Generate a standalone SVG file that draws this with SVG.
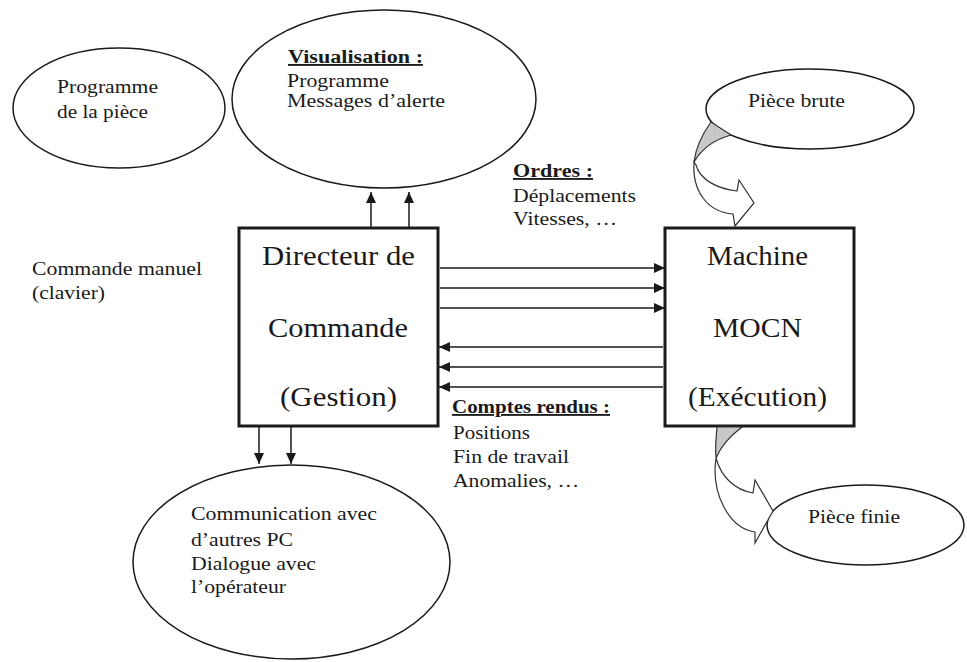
<svg xmlns="http://www.w3.org/2000/svg" width="967" height="662" viewBox="0 0 967 662">
<style>
text{font-family:"Liberation Serif","Times New Roman",serif;fill:#1a1a1a;}
.s{font-size:18.5px;}
.b{font-size:27.5px;}
.h{font-weight:bold;text-decoration:underline;}
.ell{fill:none;stroke:#1a1a1a;stroke-width:1.5;}
.box{fill:#fff;stroke:#1a1a1a;stroke-width:3;}
.ln{stroke:#1a1a1a;stroke-width:1.5;fill:none;}
.band{fill:#fff;stroke:#333;stroke-width:1.2;}
.shade{fill:#c8c8c8;stroke:#333;stroke-width:1.2;}
</style>
<defs>
<marker id="ah" markerUnits="userSpaceOnUse" markerWidth="12" markerHeight="10" refX="11" refY="5" orient="auto">
<path d="M0,0 L11,5 L0,10 Z" fill="#1a1a1a"/>
</marker>
</defs>
<rect width="967" height="662" fill="#fff"/>

<g id="prog-piece">
<ellipse class="ell" cx="119" cy="108" rx="106" ry="60"/>
<text class="s" x="57" y="93" textLength="101" lengthAdjust="spacingAndGlyphs">Programme</text>
<text class="s" x="57" y="118" textLength="91" lengthAdjust="spacingAndGlyphs">de la pièce</text>
</g>

<g id="visualisation">
<ellipse class="ell" cx="384" cy="99" rx="152" ry="89"/>
<text class="s h" x="288" y="63" textLength="135" lengthAdjust="spacingAndGlyphs">Visualisation :</text>
<text class="s" x="287" y="87" textLength="102" lengthAdjust="spacingAndGlyphs">Programme</text>
<text class="s" x="287" y="107" textLength="158" lengthAdjust="spacingAndGlyphs">Messages d’alerte</text>
</g>

<g id="piece-brute">
<ellipse class="ell" cx="810" cy="109" rx="104" ry="40"/>
<text class="s" x="748" y="107" textLength="97" lengthAdjust="spacingAndGlyphs">Pièce brute</text>
</g>

<g id="ordres">
<text class="s h" x="513" y="177" textLength="80" lengthAdjust="spacingAndGlyphs">Ordres :</text>
<text class="s" x="513" y="202" textLength="123" lengthAdjust="spacingAndGlyphs">Déplacements</text>
<text class="s" x="513" y="225" textLength="104" lengthAdjust="spacingAndGlyphs">Vitesses, …</text>
</g>

<g id="commande-manuel">
<text class="s" x="32" y="275" textLength="170" lengthAdjust="spacingAndGlyphs">Commande manuel</text>
<text class="s" x="32" y="299" textLength="73" lengthAdjust="spacingAndGlyphs">(clavier)</text>
</g>

<g id="directeur">
<rect class="box" x="239" y="228" width="199" height="198"/>
<text class="b" x="262" y="265" textLength="153" lengthAdjust="spacingAndGlyphs">Directeur de</text>
<text class="b" x="268" y="337" textLength="140" lengthAdjust="spacingAndGlyphs">Commande</text>
<text class="b" x="280" y="406" textLength="117" lengthAdjust="spacingAndGlyphs">(Gestion)</text>
</g>

<g id="machine">
<rect class="box" x="665" y="228" width="189" height="198"/>
<text class="b" x="707" y="265" textLength="101" lengthAdjust="spacingAndGlyphs">Machine</text>
<text class="b" x="713" y="337" textLength="89" lengthAdjust="spacingAndGlyphs">MOCN</text>
<text class="b" x="688" y="406" textLength="139" lengthAdjust="spacingAndGlyphs">(Exécution)</text>
</g>

<g id="comptes-rendus">
<text class="s h" x="452" y="413" textLength="158" lengthAdjust="spacingAndGlyphs">Comptes rendus :</text>
<text class="s" x="453" y="439" textLength="77" lengthAdjust="spacingAndGlyphs">Positions</text>
<text class="s" x="453" y="463" textLength="116" lengthAdjust="spacingAndGlyphs">Fin de travail</text>
<text class="s" x="453" y="487" textLength="126" lengthAdjust="spacingAndGlyphs">Anomalies, …</text>
</g>

<g id="communication">
<ellipse class="ell" cx="291.5" cy="562" rx="158.5" ry="97"/>
<text class="s" x="191" y="520" textLength="186" lengthAdjust="spacingAndGlyphs">Communication avec</text>
<text class="s" x="191" y="546" textLength="102" lengthAdjust="spacingAndGlyphs">d’autres PC</text>
<text class="s" x="191" y="570" textLength="125" lengthAdjust="spacingAndGlyphs">Dialogue avec</text>
<text class="s" x="191" y="593" textLength="95" lengthAdjust="spacingAndGlyphs">l’opérateur</text>
</g>

<g id="piece-finie">
<ellipse class="ell" cx="865.5" cy="525" rx="98.5" ry="40"/>
<text class="s" x="808" y="523" textLength="92" lengthAdjust="spacingAndGlyphs">Pièce finie</text>
</g>

<g id="connectors">
<line class="ln" x1="371" y1="228" x2="371" y2="192" marker-end="url(#ah)"/>
<line class="ln" x1="409" y1="228" x2="409" y2="192" marker-end="url(#ah)"/>
<line class="ln" x1="259" y1="426" x2="259" y2="464" marker-end="url(#ah)"/>
<line class="ln" x1="291" y1="426" x2="291" y2="464" marker-end="url(#ah)"/>
<line class="ln" x1="440" y1="268" x2="665" y2="268" marker-end="url(#ah)"/>
<line class="ln" x1="440" y1="288" x2="665" y2="288" marker-end="url(#ah)"/>
<line class="ln" x1="440" y1="308" x2="665" y2="308" marker-end="url(#ah)"/>
<line class="ln" x1="663" y1="347" x2="439" y2="347" marker-end="url(#ah)"/>
<line class="ln" x1="663" y1="367" x2="439" y2="367" marker-end="url(#ah)"/>
<line class="ln" x1="663" y1="387" x2="439" y2="387" marker-end="url(#ah)"/>
<path class="shade" d="M711,122 C703,133 696,146 694,162 C701,150 713,140 731,135 Z"/>
<path class="band" d="M694,162 C692,192 708,212 733,214 L735,226 L754,203 L739,180 L737,191 C718,189 700,180 696,165 Z"/>
<path class="shade" d="M717,427 L742,427 C730,436 721,446 716,458 C715,447 716,437 717,427 Z"/>
<path class="band" d="M716,458 C711,492 728,528 755,532 L755,543 L773,511 L755,480 L753,493 C735,490 721,477 716,458 Z"/>
</g>
</svg>
